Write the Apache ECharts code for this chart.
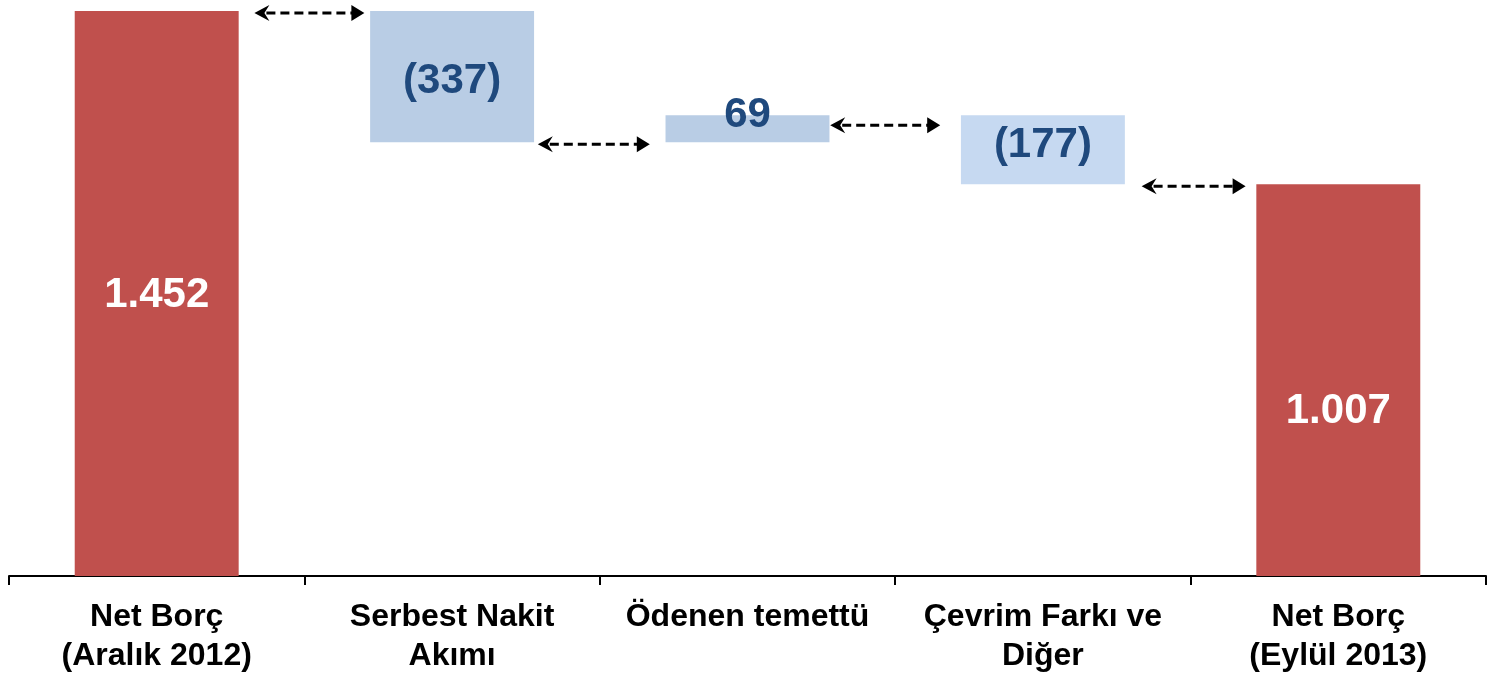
<!DOCTYPE html>
<html>
<head>
<meta charset="utf-8">
<script src="https://cdn.jsdelivr.net/npm/echarts@6/dist/echarts.min.js"></script>
<style>
  html, body { margin: 0; padding: 0; background: #ffffff; }
  #chart { width: 1489px; height: 676px; }
</style>
</head>
<body>
<div id="chart"></div>
<script>
// Net debt bridge: opening total, movements, closing total
const categories = [
  'Net Borç\n(Aralık 2012)',
  'Serbest Nakit\nAkımı',
  'Ödenen temettü',
  'Çevrim Farkı ve\nDiğer',
  'Net Borç\n(Eylül 2013)'
];
const values = [1452, -337, 69, -177, 1007];
const isTotal = [true, false, false, false, true];

// Floating bars: invisible base + visible segment
const baseValues = [];
const barValues = [];
const levels = []; // running total after each column
let running = 0;
values.forEach((v, i) => {
  if (isTotal[i]) {
    baseValues.push(0);
    barValues.push(v);
    running = v;
  } else {
    const next = running + v;
    baseValues.push(Math.min(running, next));
    barValues.push(Math.abs(v));
    running = next;
  }
  levels.push(running);
});

function fmt(v, total) {
  const s = String(Math.abs(v)).replace(/\B(?=(\d{3})+(?!\d))/g, '.');
  return (!total && v < 0) ? '(' + s + ')' : s;
}

const RED = '#C0504D';
const BLUE = '#B9CDE5';
const BLUE_LIGHT = '#C6D9F1';
const barColors = [RED, BLUE, BLUE, BLUE_LIGHT, RED];
const labelOffsets = [[0, 2], [0, 5], [0, -13], [0, -4], [0, 31]];

const chart = echarts.init(document.getElementById('chart'));

// dashed double-headed connectors between adjacent columns
const connectorDrop = [2, 2, 10, 2];
const connectorShift = [5, -6, -10, 3];
const connectorHalf = [55, 56, 55, 52];
const connectorData = levels.slice(0, -1).map((lv, i) => [i, lv]);

chart.setOption({
  animation: false,
  grid: { left: 9, right: 3, top: 11, bottom: 96 },
  xAxis: {
    type: 'category',
    data: categories,
    axisLine: { lineStyle: { color: '#000', width: 2 } },
    axisTick: { show: true, length: 9, lineStyle: { color: '#000', width: 2 } },
    axisLabel: {
      interval: 0,
      margin: 22,
      color: '#000',
      fontFamily: 'Liberation Sans, Arial, sans-serif',
      fontWeight: 'bold',
      fontSize: 32,
      lineHeight: 39
    }
  },
  yAxis: {
    type: 'value',
    min: 0,
    max: 'dataMax',
    show: false,
    splitLine: { show: false }
  },
  series: [
    {
      type: 'bar',
      stack: 'wf',
      barWidth: '55.5%',
      itemStyle: { color: 'transparent' },
      emphasis: { disabled: true },
      data: baseValues
    },
    {
      type: 'bar',
      stack: 'wf',
      barWidth: '55.5%',
      emphasis: { disabled: true },
      data: barValues.map((v, i) => ({
        value: v,
        itemStyle: { color: barColors[i] },
        label: {
          show: true,
          position: 'inside',
          offset: labelOffsets[i],
          formatter: () => fmt(values[i], isTotal[i]),
          color: isTotal[i] ? '#ffffff' : '#1F497D',
          fontFamily: 'Liberation Sans, Arial, sans-serif',
          fontWeight: 'bold',
          fontSize: 42
        }
      }))
    },
    {
      type: 'custom',
      silent: true,
      z: 5,
      data: connectorData,
      renderItem: function (params, api) {
        const i = api.value(0);
        const lv = api.value(1);
        const p = api.coord([i, lv]);
        const band = api.size([1, 0])[0];
        const cx = p[0] + band / 2 + connectorShift[i];
        const y = p[1] + connectorDrop[i];
        const x0 = cx - connectorHalf[i], x1 = cx + connectorHalf[i];
        return {
          type: 'group',
          children: [
            {
              type: 'line',
              shape: { x1: x0 + 12, y1: y, x2: x1 - 12, y2: y },
              style: { stroke: '#000', lineWidth: 3, lineDash: [9, 5] }
            },
            {
              type: 'polygon',
              shape: { points: [[x0, y], [x0 + 15, y - 8], [x0 + 10, y], [x0 + 15, y + 8]] },
              style: { fill: '#000' }
            },
            {
              type: 'polygon',
              shape: { points: [[x1, y], [x1 - 13, y - 8], [x1 - 13, y + 8]] },
              style: { fill: '#000' }
            }
          ]
        };
      }
    }
  ]
});
</script>
</body>
</html>
